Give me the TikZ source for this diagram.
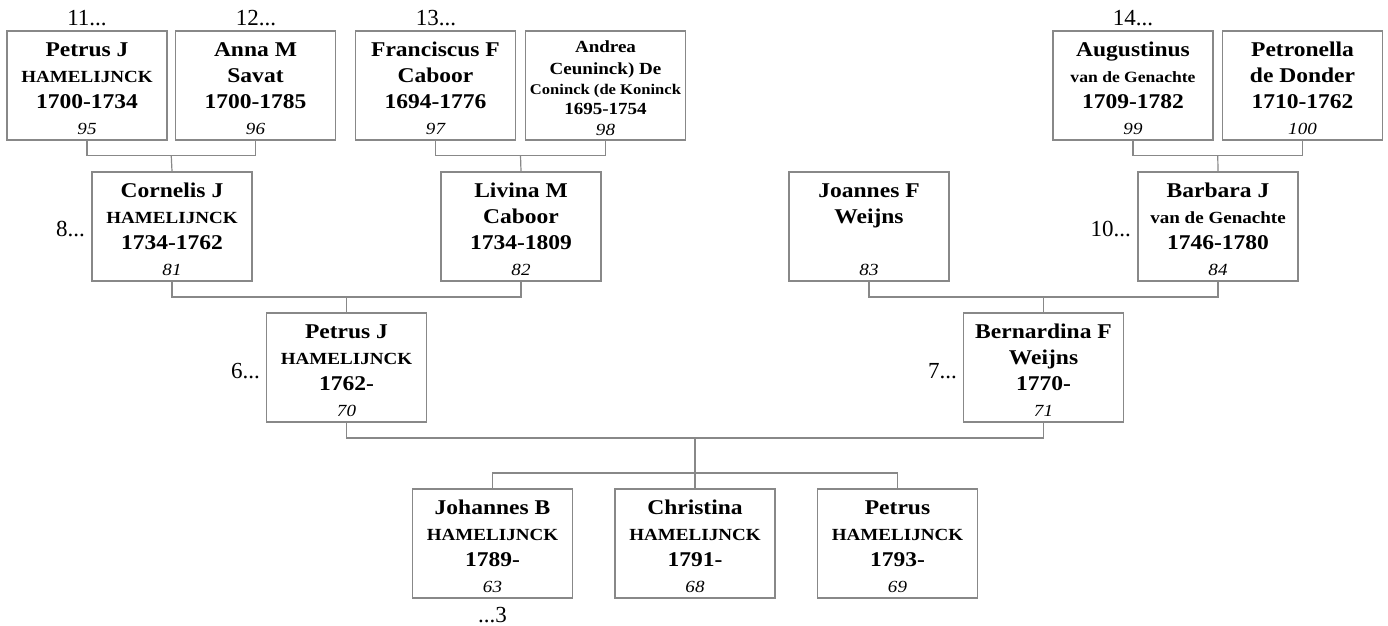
\documentclass[tikz,border=0pt]{standalone}
\usepackage{fontspec}
\setmainfont[FakeStretch=1.12]{Liberation Serif}
\newfontfamily\plainfont{Liberation Serif}
\definecolor{lc}{RGB}{136,136,136}
\newcommand\fA{\fontsize{21}{25}\selectfont\bfseries}
\newcommand\fB{\fontsize{17}{21}\selectfont\bfseries}
\newcommand\fC{\fontsize{15.7}{19}\selectfont\bfseries}
\newcommand\fD{\fontsize{14.8}{18}\selectfont\bfseries}
\newcommand\fN{\fontsize{17}{21}\selectfont\itshape}
\newcommand\fO{\plainfont\fontsize{23}{27}\selectfont}
\tikzset{
  pbox/.style={draw=lc, line width=1.2pt, minimum height=109pt, inner sep=0pt},
  tl/.style={anchor=base, inner sep=0pt},
  conn/.style={draw=lc, line width=1.2pt},
  outl/.style={anchor=base, inner sep=0pt, font=\fO},
}
% id, cx, top, width, line1, line2, line3, number
\newcommand\person[8]{%
  \node[pbox, minimum width=#4pt] (#1) at (#2,#3+54.5) {};
  \node[tl] (#1-a) at (#2,#3+25) {#5};
  \node[tl] (#1-b) at (#2,#3+51) {#6};
  \node[tl] (#1-c) at (#2,#3+77.5) {#7};
  \node[tl] (#1-n) at (#2,#3+103) {\fN #8};
}
\begin{document}
\begin{tikzpicture}[x=1pt,y=-1pt]
\useasboundingbox (0,0) rectangle (1388,625);
% row 1
\person{p95}{87}{31}{160}{\fA Petrus J}{\fB HAMELIJNCK}{\fA 1700-1734}{95}
\person{p96}{255.5}{31}{160}{\fA Anna M}{\fA Savat}{\fA 1700-1785}{96}
\person{p97}{435.5}{31}{160}{\fA Franciscus F}{\fA Caboor}{\fA 1694-1776}{97}
\node[pbox, minimum width=160pt] (p98) at (605.5,85.5) {};
\node[tl] (p98-a) at (605.5,52) {\fB Andrea};
\node[tl] (p98-b) at (605.5,74) {\fB Ceuninck) De};
\node[tl] (p98-c) at (605.5,94.5) {\fD Coninck (de Koninck};
\node[tl] (p98-d) at (605.5,114.5) {\fB 1695-1754};
\node[tl] (p98-n) at (605.5,135) {\fN 98};
\person{p99}{1133}{31}{160}{\fA Augustinus}{\fC van de Genachte}{\fA 1709-1782}{99}
\person{p100}{1302.5}{31}{160}{\fA Petronella}{\fA de Donder}{\fA 1710-1762}{100}
% row 2
\person{p81}{172}{172}{160}{\fA Cornelis J}{\fB HAMELIJNCK}{\fA 1734-1762}{81}
\person{p82}{521}{172}{160}{\fA Livina M}{\fA Caboor}{\fA 1734-1809}{82}
\person{p83}{869}{172}{160}{\fA Joannes F}{\fA Weijns}{}{83}
\person{p84}{1218}{172}{160}{\fA Barbara J}{\fB van de Genachte}{\fA 1746-1780}{84}
% row 3
\person{p70}{346.5}{313}{160}{\fA Petrus J}{\fB HAMELIJNCK}{\fA 1762-}{70}
\person{p71}{1043.5}{313}{160}{\fA Bernardina F}{\fA Weijns}{\fA 1770-}{71}
% row 4
\person{p63}{492.5}{489}{160}{\fA Johannes B}{\fB HAMELIJNCK}{\fA 1789-}{63}
\person{p68}{695}{489}{160}{\fA Christina}{\fB HAMELIJNCK}{\fA 1791-}{68}
\person{p69}{897.5}{489}{160}{\fA Petrus}{\fB HAMELIJNCK}{\fA 1793-}{69}
% junctions
\coordinate (j1) at (171.25,155.5);
\coordinate (j2) at (520.5,155.5);
\coordinate (j3) at (1217.75,155.5);
\coordinate (j4) at (346.5,297);
\coordinate (j5) at (1043.5,297);
\coordinate (j6) at (695,438);
\coordinate (j7) at (695,473);
% connectors
\draw[conn] (p95.south) |- (j1) -| (p96.south);
\draw[conn] (j1) -- (p81.north);
\draw[conn] (p97.south) |- (j2) -| (p98.south);
\draw[conn] (j2) -- (p82.north);
\draw[conn] (p99.south) |- (j3) -| (p100.south);
\draw[conn] (j3) -- (p84.north);
\draw[conn] (p81.south) |- (j4) -| (p82.south);
\draw[conn] (j4) -- (p70.north);
\draw[conn] (p83.south) |- (j5) -| (p84.south);
\draw[conn] (j5) -- (p71.north);
\draw[conn] (p70.south) |- (j6) -| (p71.south);
\draw[conn] (j6) -- (j7);
\draw[conn] (p63.north) |- (j7) -| (p69.north);
\draw[conn] (j7) -- (p68.north);
% outer labels
\node[outl] (l11) at (87,25) {11...};
\node[outl] (l12) at (256,25) {12...};
\node[outl] (l13) at (436,25) {13...};
\node[outl] (l14) at (1133,25) {14...};
\node[outl, anchor=base east] (l8) at (85,236) {8...};
\node[outl, anchor=base east] (l6) at (260,378) {6...};
\node[outl, anchor=base east] (l10) at (1131,236) {10...};
\node[outl, anchor=base east] (l7) at (957,378) {7...};
\node[outl] (l3) at (492.5,622) {...3};
\end{tikzpicture}
\end{document}
